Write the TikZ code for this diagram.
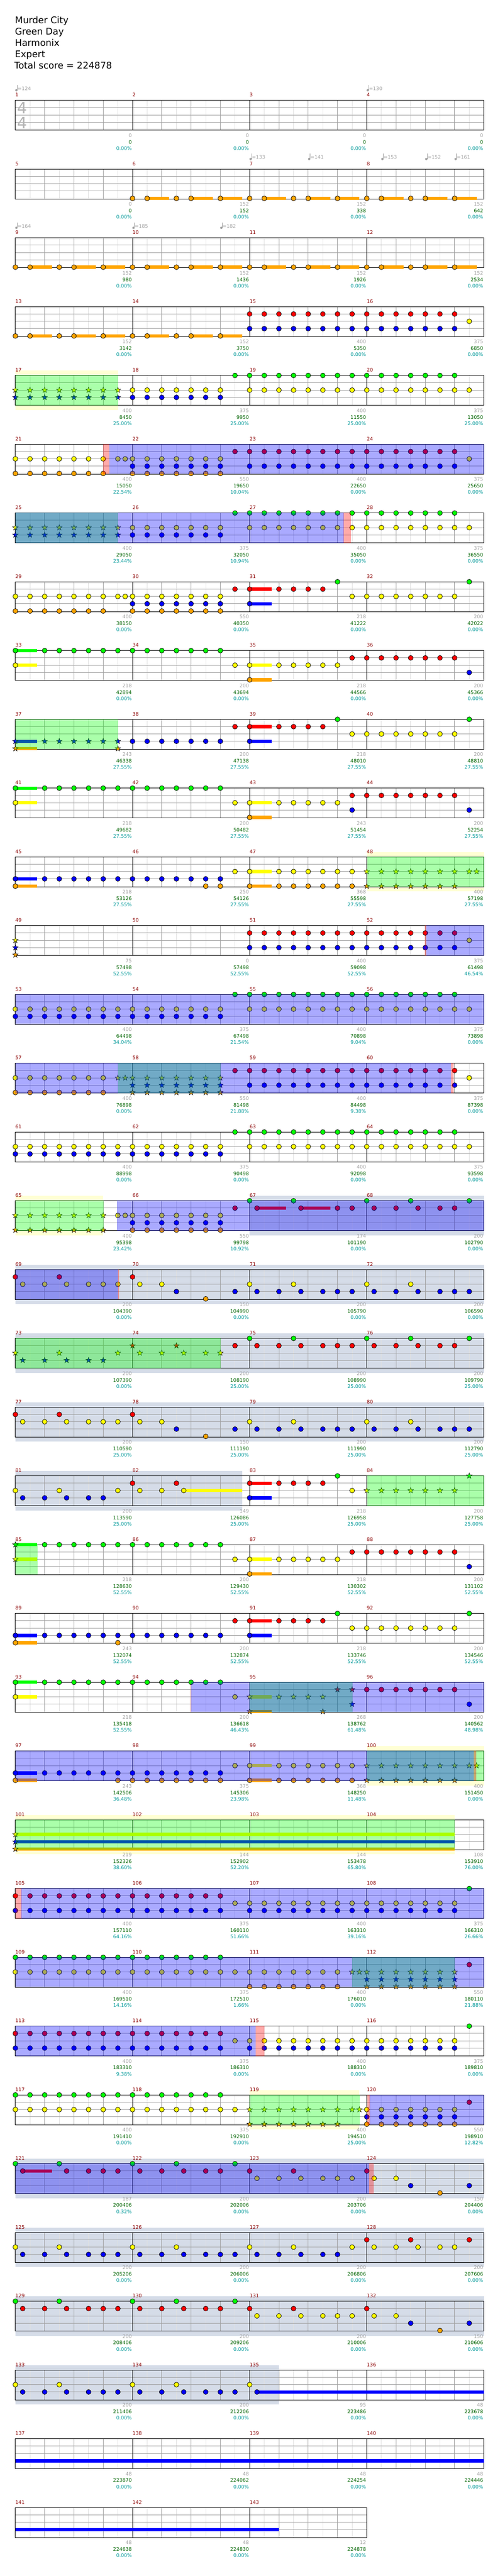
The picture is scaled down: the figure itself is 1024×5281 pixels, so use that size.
\documentclass[tikz,border=0pt]{standalone}
\usepackage{fontspec}
\setmainfont{DejaVu Sans}
\definecolor{cg}{HTML}{00FF00}
\definecolor{cr}{HTML}{FF0000}
\definecolor{cy}{HTML}{FFFF00}
\definecolor{cb}{HTML}{0000FF}
\definecolor{co}{HTML}{FFA500}
\definecolor{solocol}{HTML}{D5DCE8}
\definecolor{odcol}{HTML}{FFFFD4}
\definecolor{gridbeat}{HTML}{A0A0A0}
\definecolor{gridhalf}{HTML}{E0E0E0}
\definecolor{txtgray}{HTML}{A0A0A0}
\definecolor{txtgreen}{HTML}{006400}
\definecolor{txtteal}{HTML}{009999}
\definecolor{txtred}{HTML}{8B0000}
\definecolor{sigcol}{HTML}{B4B4B4}
\newcommand\lanefor[1]{\csname lane#1\endcsname}
\expandafter\def\csname laneg\endcsname{0}
\expandafter\def\csname laner\endcsname{15}
\expandafter\def\csname laney\endcsname{30}
\expandafter\def\csname laneb\endcsname{45}
\expandafter\def\csname laneo\endcsname{60}
\def\off{0}
\newcommand\ROW[1]{\pgfmathsetmacro\ry{205.7+141*#1}\pgfmathtruncatemacro\rn{#1}}
\newcommand\XAT[1]{31.5+15*(#1)}
\newcommand\NOTE[2]{\foreach \i in {#2}{\filldraw[notesty,fill=c#1] ({\XAT{\i+\off}},{\ry+\lanefor{#1}}) circle[radius=5];}}
\newcommand\STAR[2]{\foreach \i in {#2}{\filldraw[starsty,fill=c#1,shift={({\XAT{\i+\off}},{\ry+\lanefor{#1}})}] (0,-6)--(-1.41,-1.94)--(-5.71,-1.85)--(-2.28,.74)--(-3.53,4.85)--(0,2.4)--(3.53,4.85)--(2.28,.74)--(5.71,-1.85)--(1.41,-1.94)--cycle;}}
\newcommand\SUS[3]{\fill[c#1] ({\XAT{#2+\off}},{\ry+\lanefor{#1}-3.4}) rectangle ({\XAT{#3+\off}},{\ry+\lanefor{#1}+3.4});}
\newcommand\OVER[3]{\fill[c#1,fill opacity=0.3333] ({\XAT{#2}},{\ry-.5}) rectangle ({\XAT{#3}+.5},{\ry+61.5});}
\newcommand\ODBAND[2]{\fill[odcol] ({\XAT{#1}},{\ry-10}) rectangle ({\XAT{#2}},{\ry+71});\fill[white] ({\XAT{#1}},{\ry}) rectangle ({\XAT{#2}},{\ry+61});}
\newcommand\SOLO[2]{\fill[solocol] ({\XAT{#1}},{\ry-10}) rectangle ({\XAT{#2}},{\ry+71});}
\newcommand\GRID[1]{%
  \foreach \i in {2,6,...,62}{\ifdim\i pt<#1pt\draw[gridhalf,line width=1] ({\XAT{\i}},\ry) -- ({\XAT{\i}},{\ry+61});\fi}
  \foreach \i in {4,8,...,60}{\ifdim\i pt<#1pt\draw[gridbeat,line width=1] ({\XAT{\i}},\ry) -- ({\XAT{\i}},{\ry+61});\fi}
  \foreach \l in {15,30,45}{\draw[gridbeat,line width=1] (31.5,{\ry+\l}) -- ({\XAT{#1}},{\ry+\l});}
  \foreach \i in {16,32,48}{\ifdim\i pt<#1pt\draw[black,line width=1] ({\XAT{\i}},\ry) -- ({\XAT{\i}},{\ry+61});\fi}
  \draw[black,line width=1] (31.5,\ry) rectangle ({\XAT{#1}},{\ry+61});}
\newcommand\LABS[1]{\foreach \a/\b/\c [count=\m] in {#1}{%
  \pgfmathtruncatemacro\mnum{4*\rn+\m}
  \node[lab,anchor=base west,text=txtred] at ({31.5+240*(\m-1)},{\ry-7.4}) {\mnum};
  \node[lab,anchor=base east,text=txtgray] at ({31.5+240*\m-1.5},{\ry+75.7}) {\a};
  \node[lab,anchor=base east,text=txtgreen] at ({31.5+240*\m-1.5},{\ry+89}) {\b};
  \node[lab,anchor=base east,text=txtteal] at ({31.5+240*\m-1.5},{\ry+102}) {\c\%};
}}
\newcommand\TEMPO[2]{%
  \fill[txtgray] ({\XAT{#1}+2},{\ry-20.7}) circle[radius=2.4];
  \draw[txtgray,line width=.8] ({\XAT{#1}+4},{\ry-20.7}) -- ({\XAT{#1}+4},{\ry-31.7});
  \node[lab,anchor=base west,text=txtgray] at ({\XAT{#1}+4.5},{\ry-20.7}) {=#2};}
\newcommand\RIFF[1]{\def\off{#1}\SUS{o}{2}{5}\SUS{o}{8}{11}\SUS{o}{12}{15}\NOTE{o}{0,2,6,8,12}\def\off{0}}
\begin{document}
\begin{tikzpicture}[x=1pt,y=-1pt,
  notesty/.style={draw=black,line width=.8},
  starsty/.style={draw=black,line width=.6},
  lab/.style={inner sep=0pt,outer sep=0pt,font=\fontsize{10}{12}\selectfont},
  ttl/.style={inner sep=0pt,outer sep=0pt,anchor=base west,text=black,font=\fontsize{18.8}{23}\selectfont}]
\useasboundingbox (0,0) rectangle (1024,5281);
\fill[white] (0,0) rectangle (1024,5281);
\node[ttl] (t1) at (30.8,48) {Murder City};
\node[ttl] (t2) at (30.8,71.5) {Green Day};
\node[ttl] (t3) at (30.8,95) {Harmonix};
\node[ttl] (t4) at (30.8,118) {Expert};
\node[ttl] (t5) at (29.5,141) {Total score = 224878};
% row 0
\ROW{0}\GRID{64}
\node[inner sep=0pt,anchor=base west,text=sigcol,font=\fontsize{32}{32}\selectfont] (ts1) at (35,233) {4};
\node[inner sep=0pt,anchor=base west,text=sigcol,font=\fontsize{32}{32}\selectfont] (ts2) at (35,263) {4};
\TEMPO{0}{124}\TEMPO{48}{130}
\LABS{0/0/0.00,0/0/0.00,0/0/0.00,0/0/0.00}
% row 1
\ROW{1}\GRID{64}\RIFF{16}\RIFF{32}\RIFF{48}
\TEMPO{32}{133}\TEMPO{40}{141}\TEMPO{50}{153}\TEMPO{56}{152}\TEMPO{60}{161}
\LABS{0/0/0.00,152/152/0.00,152/338/0.00,152/642/0.00}
% row 2
\ROW{2}\GRID{64}\RIFF{0}\RIFF{16}\RIFF{32}\RIFF{48}
\TEMPO{0}{164}\TEMPO{16}{185}\TEMPO{28}{182}
\LABS{152/980/0.00,152/1436/0.00,152/1926/0.00,152/2534/0.00}
% row 3
\ROW{3}\GRID{64}\RIFF{0}\RIFF{16}
\NOTE{r}{32,34,...,60}\NOTE{b}{32,34,...,60}\NOTE{y}{62}
\LABS{152/3142/0.00,152/3750/0.00,400/5350/0.00,375/6850/0.00}
% row 4
\ROW{4}\ODBAND{0}{14}\GRID{64}
\STAR{y}{0,2,...,14}\STAR{b}{0,2,...,14}
\NOTE{y}{16,18,...,28}\NOTE{b}{16,18,...,28}
\NOTE{g}{30,32,...,60}\NOTE{y}{32,34,...,62}
\OVER{g}{0}{14}
\LABS{400/8450/25.00,375/9950/25.00,400/11550/25.00,375/13050/25.00}
% row 5
\ROW{5}\GRID{64}
\NOTE{y}{0,2,...,12,14,15,16,18,...,28,62}\NOTE{o}{0,2,...,12,16,18,...,28}
\NOTE{b}{16,18,...,28,32,34,...,60}\NOTE{r}{30,32,...,60}
\OVER{r}{12}{12.8}\OVER{b}{12.8}{64}
\LABS{400/15050/22.54,550/19650/10.04,400/22650/0.00,375/25650/0.00}
% row 6
\ROW{6}\GRID{64}
\STAR{y}{0,2,...,14}\STAR{b}{0,2,...,14}
\NOTE{y}{16,18,...,28,32,34,...,62}\NOTE{b}{16,18,...,28}\NOTE{g}{30,32,...,60}
\OVER{g}{0}{14}\OVER{r}{44.8}{45.85}\OVER{b}{0}{44.8}
\LABS{400/29050/23.44,375/32050/10.94,400/35050/0.00,375/36550/0.00}
% row 7
\ROW{7}\GRID{64}
\SUS{r}{32}{35}\SUS{b}{32}{35}
\NOTE{y}{0,2,...,12,14,15,16,18,...,28,46,48,...,60}\NOTE{o}{0,2,...,12,16,18,...,28}
\NOTE{b}{16,18,...,28,32}\NOTE{r}{30,32,36,38,40,42}\NOTE{g}{44,62}
\LABS{400/38150/0.00,550/40350/0.00,218/41222/0.00,200/42022/0.00}
% row 8
\ROW{8}\GRID{64}
\SUS{g}{0}{3}\SUS{y}{0}{3}\SUS{y}{32}{35}\SUS{o}{32}{35}
\NOTE{g}{0,4,6,...,28}\NOTE{y}{0,30,32,36,38,40,42,44}\NOTE{o}{32}\NOTE{r}{46,48,...,60}\NOTE{b}{62}
\LABS{218/42894/0.00,200/43694/0.00,218/44566/0.00,200/45366/0.00}
% row 9
\ROW{9}\GRID{64}
\SUS{b}{0}{3}\SUS{o}{0}{3}\SUS{b}{32}{35}\SUS{r}{32}{35}
\STAR{b}{0,4,6,...,14}\STAR{o}{0,14}
\NOTE{b}{16,18,...,28,32}\NOTE{r}{30,32,36,38,40,42}\NOTE{g}{44,62}\NOTE{y}{46,48,...,60}
\OVER{g}{0}{14}
\LABS{243/46338/27.55,200/47138/27.55,218/48010/27.55,200/48810/27.55}
% row 10
\ROW{10}\GRID{64}
\SUS{g}{0}{3}\SUS{y}{0}{3}\SUS{y}{32}{35}\SUS{o}{32}{35}
\NOTE{g}{0,4,6,...,28}\NOTE{y}{0,30,32,36,38,40,42,44}\NOTE{o}{32}\NOTE{r}{46,48,...,60}\NOTE{b}{46,62}
\LABS{218/49682/27.55,200/50482/27.55,243/51454/27.55,200/52254/27.55}
% row 11
\ROW{11}\ODBAND{48}{64}\GRID{64}
\SUS{b}{0}{3}\SUS{o}{0}{3}\SUS{y}{32}{35}\SUS{o}{32}{35}
\NOTE{b}{0,4,6,...,28}\NOTE{o}{0,26,28,32,36,38,...,46}\NOTE{y}{30,32,36,38,...,46}
\STAR{y}{48,50,...,60,62,63}\STAR{o}{48,50,...,60}
\OVER{g}{48}{64}
\LABS{218/53126/27.55,250/54126/27.55,368/55598/27.55,400/57198/27.55}
% row 12
\ROW{12}\GRID{64}
\STAR{y}{0}\STAR{b}{0}\STAR{o}{0}
\NOTE{r}{32,34,...,60}\NOTE{b}{32,34,...,60}\NOTE{y}{62}
\OVER{r}{55.9}{56.13}\OVER{b}{56.13}{64}
\LABS{75/57498/52.55,0/57498/52.55,400/59098/52.55,375/61498/46.54}
% row 13
\ROW{13}\GRID{64}
\NOTE{g}{30,32,...,60}\NOTE{y}{0,2,...,28,32,34,...,62}\NOTE{b}{0,2,...,28}
\OVER{b}{0}{64}
\LABS{400/64498/34.04,375/67498/21.54,400/70898/9.04,375/73898/0.00}
% row 14
\ROW{14}\GRID{64}
\NOTE{y}{0,2,...,12,62}\STAR{y}{14,15,16,18,...,28}
\NOTE{o}{0,2,...,12}\STAR{o}{16,18,...,28}\STAR{b}{16,18,...,28}
\NOTE{b}{32,34,...,60}\NOTE{r}{30,32,...,60}
\OVER{g}{14}{28}\OVER{r}{59.5}{59.85}\OVER{b}{0}{59.5}
\LABS{400/76898/0.00,550/81498/21.88,400/84498/9.38,375/87398/0.00}
% row 15
\ROW{15}\GRID{64}
\NOTE{g}{30,32,...,60}\NOTE{y}{0,2,...,28,32,34,...,62}\NOTE{b}{0,2,...,28}
\LABS{400/88998/0.00,375/90498/0.00,400/92098/0.00,375/93598/0.00}
% row 16
\ROW{16}\ODBAND{0}{12}\SOLO{32}{64}\GRID{64}
\SUS{r}{33}{37}\SUS{r}{39}{43}
\STAR{y}{0,2,...,12}\STAR{o}{0,2,...,12}
\NOTE{y}{14,15,16,18,...,28}\NOTE{b}{16,18,...,28}\NOTE{o}{16,18,...,28}
\NOTE{r}{30,33,39,44,46,49,52,55,58,60}\NOTE{g}{32,38,48,54,62}
\OVER{g}{0}{12}\OVER{b}{13.9}{64}
\LABS{400/95398/23.42,550/99798/10.92,174/101190/0.00,200/102790/0.00}
% row 17
\ROW{17}\SOLO{0}{64}\GRID{64}
\NOTE{r}{0,6,16}\NOTE{y}{1,4,7,10,12,14,17,20,32,38,48,54}
\NOTE{b}{22,30,33,36,39,42,44,46,49,52,55,58,60,62}\NOTE{o}{26}
\OVER{r}{14}{14.1}\OVER{b}{0}{14}
\LABS{200/104390/0.00,150/104990/0.00,200/105790/0.00,200/106590/0.00}
% row 18
\ROW{18}\SOLO{0}{64}\GRID{64}
\STAR{y}{0,6,14,17,20,23,26,28}\STAR{b}{1,4,7,10,12}\STAR{r}{16,22}
\NOTE{r}{30,33,36,39,42,44,46,49,52,55,58,60}\NOTE{g}{32,38,48,54,62}
\OVER{g}{0}{28}
\LABS{200/107390/0.00,200/108190/25.00,200/108990/25.00,200/109790/25.00}
% row 19
\ROW{19}\SOLO{0}{64}\GRID{64}
\NOTE{r}{0,6,16}\NOTE{y}{1,4,7,10,12,14,17,20,32,38,48,54}
\NOTE{b}{22,30,33,36,39,42,44,46,49,52,55,58,60,62}\NOTE{o}{26}
\LABS{200/110590/25.00,150/111190/25.00,200/111990/25.00,200/112790/25.00}
% row 20
\ROW{20}\SOLO{0}{31}\GRID{64}
\SUS{y}{23}{31}\SUS{r}{32}{35}\SUS{b}{32}{35}
\NOTE{y}{0,6,14,17,20,23,46}\NOTE{b}{1,4,7,10,12,32}\NOTE{r}{16,22,32,36,38,40,42}\NOTE{g}{44}
\STAR{g}{62}\STAR{y}{48,50,...,60}
\OVER{g}{48}{64}
\LABS{200/113590/25.00,149/126086/25.00,218/126958/25.00,200/127758/25.00}
% row 21
\ROW{21}\GRID{64}
\SUS{g}{0}{3}\SUS{y}{0}{3}\SUS{y}{32}{35}\SUS{o}{32}{35}
\STAR{g}{0}\STAR{y}{0}
\NOTE{g}{4,6,...,28}\NOTE{y}{30,32,36,38,40,42,44}\NOTE{o}{32}\NOTE{r}{46,48,...,60}\NOTE{b}{62}
\OVER{g}{0}{3}
\LABS{218/128630/52.55,200/129430/52.55,218/130302/52.55,200/131102/52.55}
% row 22
\ROW{22}\GRID{64}
\SUS{b}{0}{3}\SUS{o}{0}{3}\SUS{b}{32}{35}\SUS{r}{32}{35}
\NOTE{b}{0,4,6,...,28,32}\NOTE{o}{0,14}\NOTE{r}{30,32,36,38,40,42}\NOTE{g}{44,62}\NOTE{y}{46,48,...,60}
\LABS{243/132074/52.55,200/132874/52.55,218/133746/52.55,200/134546/52.55}
% row 23
\ROW{23}\GRID{64}
\SUS{g}{0}{3}\SUS{y}{0}{3}\SUS{y}{32}{35}\SUS{o}{32}{35}
\NOTE{g}{0,4,6,...,28}\NOTE{y}{0,30}\STAR{y}{32,36,38,40,42}\STAR{o}{32,42}\STAR{r}{44,46}\STAR{b}{46}
\NOTE{r}{48,50,...,60}\NOTE{b}{62}
\OVER{g}{32}{46}\OVER{r}{23.95}{24}\OVER{b}{24}{64}
\LABS{218/135418/52.55,200/136618/46.43,268/138762/61.48,200/140562/48.98}
% row 24
\ROW{24}\ODBAND{48}{64}\GRID{64}
\SUS{b}{0}{3}\SUS{o}{0}{3}\SUS{y}{32}{35}\SUS{o}{32}{35}
\NOTE{b}{0,4,6,...,28}\NOTE{o}{0,14,16,...,28,32,36,38,...,46}\NOTE{y}{30,32,36,38,...,46}
\STAR{y}{48,50,...,60,62,63}\STAR{o}{48,50,...,60}
\OVER{g}{48}{64}\OVER{r}{62.6}{62.9}\OVER{b}{0}{62.6}
\LABS{243/142506/36.48,375/145306/23.98,368/148250/11.48,400/151450/0.00}
% row 25
\ROW{25}\ODBAND{0}{60}\GRID{64}
\SUS{y}{0}{60}\SUS{b}{0}{60}\SUS{o}{0}{60}
\STAR{y}{0}\STAR{b}{0}\STAR{o}{0}
\OVER{g}{0}{60}
\LABS{219/152326/38.60,144/152902/52.20,144/153478/65.80,108/153910/76.00}
% row 26
\ROW{26}\GRID{64}
\NOTE{r}{0,2,...,28}\NOTE{b}{0,2,...,28,32,34,...,60}\NOTE{y}{30,32,...,60}\NOTE{g}{62}
\OVER{r}{0}{0.8}\OVER{b}{0.8}{64}
\LABS{400/157110/64.16,375/160110/51.66,400/163310/39.16,375/166310/26.66}
% row 27
\ROW{27}\GRID{64}
\NOTE{g}{0,2,...,28}\NOTE{y}{0,2,...,44}\STAR{y}{46,47,48,50,...,60}\NOTE{o}{32,34,...,44}
\STAR{o}{48,50,...,60}\STAR{b}{48,50,...,60}\NOTE{r}{62}
\OVER{g}{46}{60}\OVER{b}{0}{64}
\LABS{400/169510/14.16,375/172510/1.66,400/176010/0.00,550/180110/21.88}
% row 28
\ROW{28}\GRID{64}
\NOTE{r}{0,2,...,28}\NOTE{b}{0,2,...,28,32,34,...,60}\NOTE{y}{30,32,...,60}\NOTE{g}{62}
\OVER{b}{0}{32.8}\OVER{r}{32.8}{34}
\LABS{400/183310/9.38,375/186310/0.00,400/188310/0.00,375/189810/0.00}
% row 29
\ROW{29}\ODBAND{32}{47}\GRID{64}
\NOTE{g}{0,2,...,28}\NOTE{y}{0,2,...,30,48,50,...,60}\STAR{y}{32,34,...,46,47}\STAR{o}{32,34,...,44}
\NOTE{b}{48,50,...,60}\NOTE{o}{48,50,...,60}\NOTE{r}{62}
\OVER{g}{32}{47}\OVER{r}{48}{48.4}\OVER{b}{48.4}{64}
\LABS{400/191410/0.00,375/192910/0.00,400/194510/25.00,550/198910/12.82}
% row 30
\ROW{30}\SOLO{0}{64}\GRID{64}
\SUS{r}{1}{5}
\NOTE{g}{0,6,16,22,30}\NOTE{r}{1,7,10,12,14,17,20,23,26,28,32,38,48}\NOTE{y}{33,36,39,42,44,46,49,52}
\NOTE{b}{54,62}\NOTE{o}{58}
\OVER{b}{0}{48.3}\OVER{r}{48.3}{48.9}
\LABS{187/200406/0.32,200/202006/0.00,200/203706/0.00,150/204406/0.00}
% row 31
\ROW{31}\SOLO{0}{64}\GRID{64}
\NOTE{y}{0,6,16,22,32,38,46,49,52,55,58,60}\NOTE{b}{1,4,7,10,12,14,17,20,23,26,28,30,33,36,39,42,44}\NOTE{r}{48,54,62}
\LABS{200/205206/0.00,200/206006/0.00,200/206806/0.00,200/207606/0.00}
% row 32
\ROW{32}\SOLO{0}{64}\GRID{64}
\NOTE{g}{0,6,16,22,30}\NOTE{r}{1,4,7,10,12,14,17,20,23,26,28,32,38,48}\NOTE{y}{33,36,39,42,44,46,49,52}
\NOTE{b}{54,62}\NOTE{o}{58}
\LABS{200/208406/0.00,200/209206/0.00,200/210006/0.00,150/210606/0.00}
% row 33
\ROW{33}\SOLO{0}{36}\GRID{64}
\SUS{b}{33}{64}
\NOTE{y}{0,6,16,22,32}\NOTE{b}{1,4,7,10,12,14,17,20,23,26,28,30,33}
\LABS{200/211406/0.00,200/212206/0.00,95/223486/0.00,48/223678/0.00}
% row 34
\ROW{34}\GRID{64}\SUS{b}{0}{64}
\LABS{48/223870/0.00,48/224062/0.00,48/224254/0.00,48/224446/0.00}
% row 35
\ROW{35}\GRID{48}\SUS{b}{0}{36}
\LABS{48/224638/0.00,48/224830/0.00,12/224878/0.00}
\end{tikzpicture}
\end{document}
